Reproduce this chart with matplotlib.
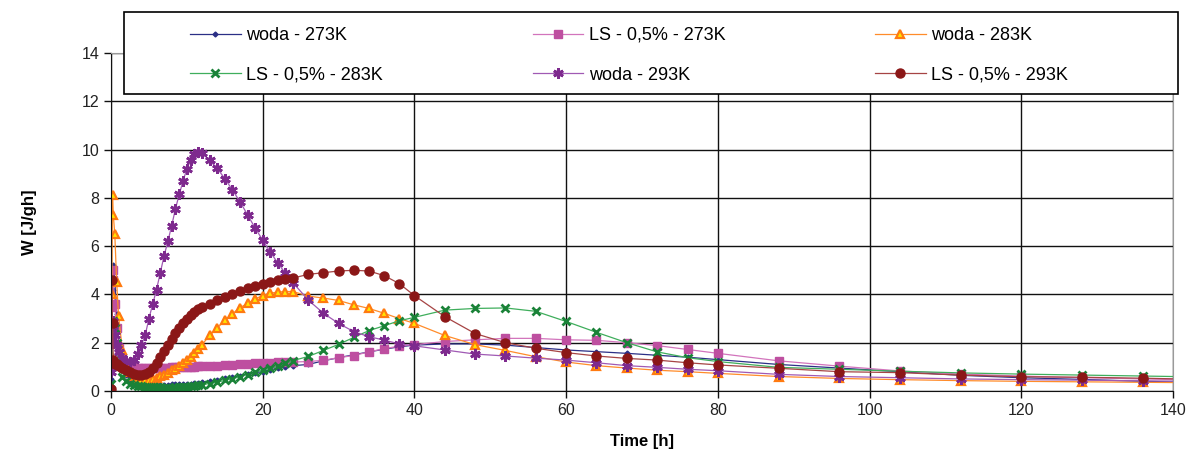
import matplotlib
matplotlib.use("Agg")
import matplotlib.pyplot as plt
from matplotlib.patches import Rectangle


plt.rcParams["font.family"] = ["Liberation Sans", "DejaVu Sans"]

# sampling times [h], shared by all six series
time_h = [0, 0.1, 0.2, 0.3, 0.5, 0.75, 1,
          1.5, 2, 2.5, 3, 3.5, 4, 4.5, 5, 5.5, 6, 6.5, 7, 7.5, 8, 8.5, 9, 9.5, 10, 10.5, 11, 11.5, 12,
          13, 14, 15, 16, 17, 18, 19, 20, 21, 22, 23, 24,
          26, 28, 30, 32, 34, 36, 38, 40,
          44, 48, 52, 56, 60, 64, 68, 72, 76, 80,
          88, 96, 104, 112, 120, 128, 136, 144]

woda_273 = [0.5, 2.5, 4.2, 5.2, 4.6, 3.2, 2.0,
            1.0, 0.65, 0.5, 0.42, 0.37, 0.33, 0.3, 0.28, 0.27, 0.26, 0.26, 0.26, 0.26, 0.27, 0.27, 0.28, 0.29, 0.3, 0.31, 0.33, 0.35, 0.37,
            0.41, 0.46, 0.52, 0.58, 0.64, 0.71, 0.76, 0.8, 0.88, 0.95, 1.0, 1.05,
            1.1, 1.25, 1.38, 1.5, 1.62, 1.73, 1.83, 1.9,
            1.95, 1.95, 1.9, 1.8, 1.7, 1.63, 1.56, 1.48, 1.4, 1.3,
            1.1, 0.95, 0.8, 0.65, 0.55, 0.48, 0.4, 0.35]

ls_273 = [1.0, 3.5, 5.0, 4.6, 3.6, 2.6, 1.8,
          1.35, 1.15, 1.05, 1.0, 0.97, 0.95, 0.95, 0.95, 0.95, 0.96, 0.96, 0.97, 0.97, 0.98, 0.98, 0.99, 0.99, 1.0, 1.0, 1.01, 1.02, 1.03,
          1.04, 1.05, 1.07, 1.08, 1.1, 1.12, 1.14, 1.16, 1.18, 1.2, 1.2, 1.2,
          1.22, 1.27, 1.38, 1.47, 1.62, 1.75, 1.86, 1.92,
          2.05, 2.12, 2.18, 2.18, 2.12, 2.1, 2.0, 1.88, 1.72, 1.56,
          1.25, 1.03, 0.83, 0.7, 0.62, 0.55, 0.5, 0.45]

woda_283 = [1.5, 4.0, 8.1, 7.3, 6.5, 4.5, 3.1,
            1.7, 1.1, 0.8, 0.62, 0.52, 0.47, 0.46, 0.47, 0.5, 0.55, 0.61, 0.68, 0.76, 0.85, 0.93, 1.03, 1.15, 1.28, 1.42, 1.57, 1.75, 1.92,
            2.3, 2.6, 2.93, 3.2, 3.45, 3.63, 3.82, 3.95, 4.05, 4.1, 4.12, 4.12,
            3.93, 3.85, 3.75, 3.57, 3.42, 3.22, 3.0, 2.8,
            2.3, 1.92, 1.68, 1.42, 1.2, 1.05, 0.95, 0.86, 0.8, 0.73,
            0.6, 0.52, 0.47, 0.43, 0.4, 0.38, 0.36, 0.34]

ls_283 = [0.3, 1.2, 2.2, 2.9, 2.6, 2.0, 1.2,
          0.6, 0.4, 0.3, 0.25, 0.22, 0.2, 0.18, 0.17, 0.16, 0.15, 0.15, 0.14, 0.14, 0.14, 0.15, 0.15, 0.16, 0.17, 0.19, 0.21, 0.23, 0.26,
          0.31, 0.37, 0.44, 0.51, 0.59, 0.68, 0.77, 0.87, 0.95, 1.02, 1.14, 1.26,
          1.43, 1.68, 1.93, 2.22, 2.5, 2.7, 2.91, 3.05,
          3.35, 3.42, 3.44, 3.3, 2.88, 2.43, 2.0, 1.62, 1.38, 1.22,
          0.98, 0.9, 0.82, 0.75, 0.7, 0.66, 0.62, 0.58]

woda_293 = [0.8, 2.0, 2.9, 2.7, 2.3, 1.9, 1.6,
            1.35, 1.25, 1.2, 1.3, 1.55, 1.9, 2.3, 3.0, 3.6, 4.2, 4.9, 5.6, 6.2, 6.85, 7.55, 8.15, 8.7, 9.2, 9.55, 9.8, 9.9, 9.85,
            9.55, 9.22, 8.8, 8.33, 7.84, 7.3, 6.75, 6.25, 5.75, 5.3, 4.87, 4.48,
            3.77, 3.22, 2.8, 2.46, 2.25, 2.11, 1.95, 1.87,
            1.7, 1.53, 1.45, 1.36, 1.28, 1.17, 1.05, 0.98, 0.9, 0.84,
            0.69, 0.6, 0.55, 0.5, 0.47, 0.45, 0.42, 0.4]

ls_293 = [0.1, 4.6, 2.8, 1.3, 1.1, 1.1, 1.05,
          0.95, 0.85, 0.77, 0.7, 0.66, 0.65, 0.7, 0.8, 0.95, 1.15, 1.4, 1.65, 1.9, 2.15, 2.4, 2.6, 2.8, 3.0, 3.15, 3.28, 3.4, 3.48,
          3.62, 3.77, 3.9, 4.02, 4.13, 4.25, 4.35, 4.43, 4.52, 4.6, 4.65, 4.68,
          4.83, 4.9, 4.97, 5.0, 4.97, 4.78, 4.45, 3.95,
          3.08, 2.38, 2.0, 1.77, 1.59, 1.45, 1.35, 1.28, 1.17, 1.08,
          0.94, 0.8, 0.76, 0.66, 0.59, 0.57, 0.53, 0.48]

labels = ["woda - 273K", "LS - 0,5% - 273K", "woda - 283K",
          "LS - 0,5% - 283K", "woda - 293K", "LS - 0,5% - 293K"]


def plot_heat_flow(ax):
    """Draw the six heat-flow curves in the legend order."""
    series = [woda_273, ls_273, woda_283, ls_283, woda_293, ls_293]
    styles = [
        dict(color="#2B2F86", marker="D", ms=2.5, mfc="#2B2F86", mec="#2B2F86"),
        dict(color="#D274BC", marker="s", ms=5.5, mfc="#BE4FA0", mec="#BE4FA0"),
        dict(color="#FF8C2A", marker="^", ms=6, mfc="#FFE600", mec="#FF7A10", mew=1.6),
        dict(color="#3FAE5C", marker="x", ms=6, mec="#1A8238", mew=2.0),
        dict(color="#A05AB4", marker=(6, 2, 0), ms=7.5, mec="#7E2A8E", mew=2.0),
        dict(color="#A64444", marker="o", ms=6.5, mfc="#8B1717", mec="#8B1717"),
    ]
    lines = []
    for values, label, st in zip(series, labels, styles):
        line, = ax.plot(time_h, values, lw=0.9, label=label, **st)
        lines.append(line)
    return lines


fig = plt.figure(figsize=(11.93, 4.61), dpi=100)
ax = fig.add_axes([111 / 1193, 1 - 391 / 461, (1173 - 111) / 1193, (391 - 53) / 461])

lines = plot_heat_flow(ax)

ax.set_xlim(0, 140)
ax.set_ylim(0, 14)
ax.set_xticks(range(0, 141, 20))
ax.set_yticks(range(0, 15, 2))
ax.grid(True, color="#111111", lw=1.0)
ax.set_axisbelow(True)
ax.tick_params(direction="out", length=5, width=1, colors="#111111",
               labelsize=11.5, labelcolor="#222222")
for side in ["left", "bottom"]:
    ax.spines[side].set_color("#111111")
for side in ["top", "right"]:
    ax.spines[side].set_color("#9A9A9A")

ax.set_xlabel("Time [h]", fontsize=12, fontweight="bold", labelpad=12)
ax.set_ylabel("W [J/gh]", fontsize=12, fontweight="bold", labelpad=32)

# legend box sits above the plot area, partly covering it
frame = Rectangle((124 / 1193, 1 - 94 / 461), (1178 - 124) / 1193, 82 / 461,
                  transform=fig.transFigure, facecolor="white", edgecolor="black",
                  lw=1.2, zorder=4)
fig.patches.append(frame)
# legend fills column by column, so reorder to get the row-wise layout
order = [0, 3, 1, 4, 2, 5]
leg = fig.legend([lines[i] for i in order], [labels[i] for i in order], ncol=3,
                 loc="upper left", bbox_to_anchor=(190 / 1193, 1 - 27 / 461),
                 frameon=False, fontsize=13, borderpad=0, borderaxespad=0,
                 handlelength=2.8, handletextpad=0.3, columnspacing=8.3,
                 labelspacing=1.25)
leg.set_zorder(5)

fig.savefig("out.png", dpi=100)
